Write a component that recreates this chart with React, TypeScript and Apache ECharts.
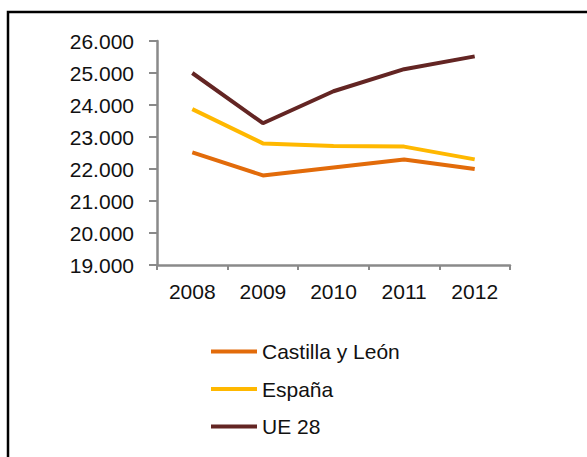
import React, { useEffect, useRef } from "react";
import * as echarts from "echarts";

const years = ["2008", "2009", "2010", "2011", "2012"];
const castillaLeon = [22520, 21800, 22050, 22300, 22000];
const espana = [23870, 22800, 22720, 22700, 22300];
const ue28 = [25000, 23430, 24430, 25120, 25520];
const seriesNames = ["Castilla y León", "España", "UE 28"];
const seriesColors = ["#E26B0A", "#FFB800", "#632523"];

const FONT = "'Liberation Sans', Arial, sans-serif";

export default function App() {
  const ref = useRef<HTMLDivElement>(null);
  useEffect(() => {
    if (!ref.current) return;
    const chart = echarts.init(ref.current, undefined, { renderer: "svg" });
    const data = [castillaLeon, espana, ue28];
    chart.setOption({
      animation: false,
      backgroundColor: "#ffffff",
      grid: { left: 157, right: 77, top: 41, bottom: 192, containLabel: false },
      xAxis: {
        type: "category",
        data: years,
        boundaryGap: true,
        axisLine: { show: true, lineStyle: { color: "#8a8a8a", width: 2.5 } },
        axisTick: { show: true, length: 5, alignWithLabel: false, lineStyle: { color: "#8a8a8a", width: 2 } },
        axisLabel: { color: "#111", fontSize: 21, fontFamily: FONT, margin: 16 },
        splitLine: { show: false },
      },
      yAxis: {
        type: "value",
        min: 19000,
        max: 26000,
        interval: 1000,
        axisLine: { show: true, lineStyle: { color: "#8a8a8a", width: 2.5 } },
        axisTick: { show: true, length: 8, lineStyle: { color: "#8a8a8a", width: 2 } },
        axisLabel: {
          color: "#111",
          fontSize: 21,
          fontFamily: FONT,
          margin: 23,
          formatter: (v: number) => {
            const s = String(Math.round(v));
            return s.slice(0, s.length - 3) + "." + s.slice(s.length - 3);
          },
        },
        splitLine: { show: false },
      },
      legend: {
        orient: "vertical",
        left: 206,
        top: 336,
        itemWidth: 46,
        itemHeight: 4,
        itemGap: 16.5,
        icon: "rect",
        textStyle: { color: "#111", fontSize: 21, fontFamily: FONT, lineHeight: 21 },
        data: seriesNames,
      },
      graphic: [
        {
          type: "polyline",
          shape: { points: [[8, 457], [8, 12], [587, 12]] },
          style: { stroke: "#000", lineWidth: 2.5, fill: "none" },
          silent: true,
        },
      ],
      series: seriesNames.map((name, i) => ({
        name,
        type: "line",
        data: data[i],
        symbol: "none",
        showSymbol: false,
        smooth: false,
        color: seriesColors[i],
        lineStyle: { color: seriesColors[i], width: 4 },
      })),
    });
    return () => chart.dispose();
  }, []);
  return (
    <div
      ref={ref}
      style={{ position: "absolute", left: 0, top: 0, width: 587, height: 457 }}
    />
  );
}
